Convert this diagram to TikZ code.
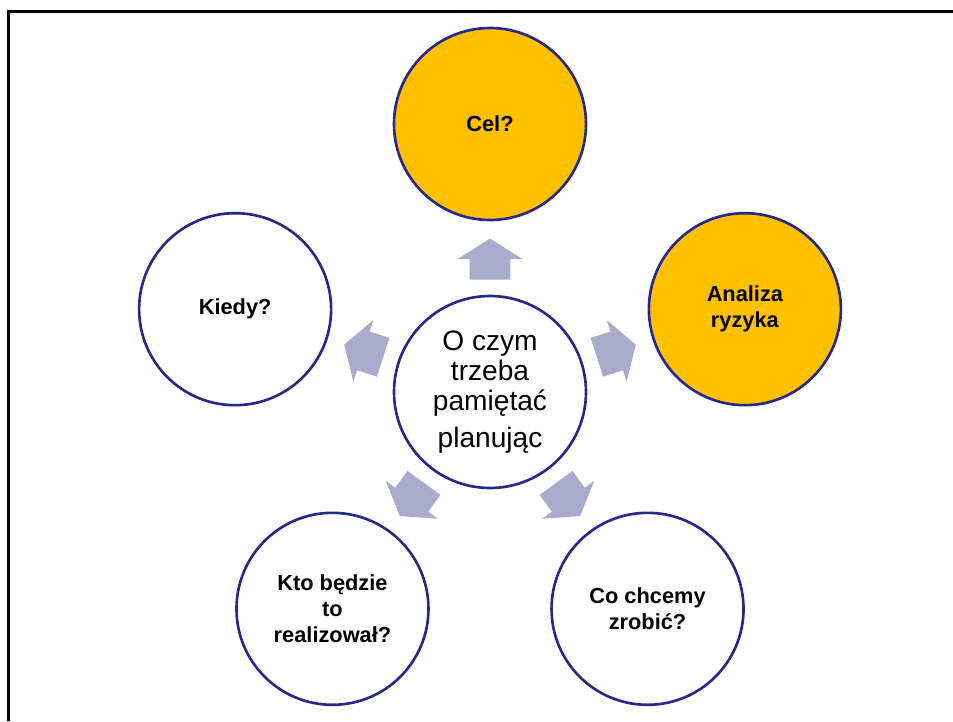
\documentclass[tikz,border=0pt]{standalone}
\usepackage{fontspec}
\setmainfont{Liberation Sans}
\usetikzlibrary{positioning, shapes.arrows, calc}
\definecolor{ringblue}{RGB}{40,40,140}
\definecolor{goal}{RGB}{255,192,0}
\definecolor{arrowgray}{RGB}{170,170,204}
\tikzset{
topic/.style={shape=circle, minimum size=3.84cm, inner sep=0, draw=ringblue, line width=1.5pt, fill=white, align=center, font=\fontsize{12.4}{14.8}\selectfont\bfseries},
hot/.style={topic, fill=goal},
hub/.style={topic, font=\fontsize{16}{17}\selectfont},
pointer/.style={single arrow, fill=arrowgray, draw=none, minimum height=0.82cm, inner xsep=0, inner ysep=0.4cm, single arrow head extend=0.24cm, single arrow tip angle=116, anchor=tail}}

\begin{document}
\begin{tikzpicture}
\useasboundingbox (0,0) rectangle (19.06,14.42);
\draw [line width=0.06cm] (0.16,0) -- (0.16,14.19) -- (19.06,14.19);
\node [hub] (plan) at (9.8,6.58) {O czym\\trzeba\\pamiętać\\[4pt]planując};
\foreach \topic/\look [count=\i, evaluate={\a=90-72*(\i-1);}] in {Cel?/hot, Analiza\\ryzyka/hot, Co chcemy\\zrobić?/topic, Kto będzie\\to\\realizował?/topic, Kiedy?/topic}{
      \node [\look] (q-\i) at ($(plan)+(\a:5.36)$) {\topic};
      \node [pointer, rotate=\a] (arr-\i) at ($(plan)+(\a:2.24)$) {};
}
\end{tikzpicture}
\end{document}
